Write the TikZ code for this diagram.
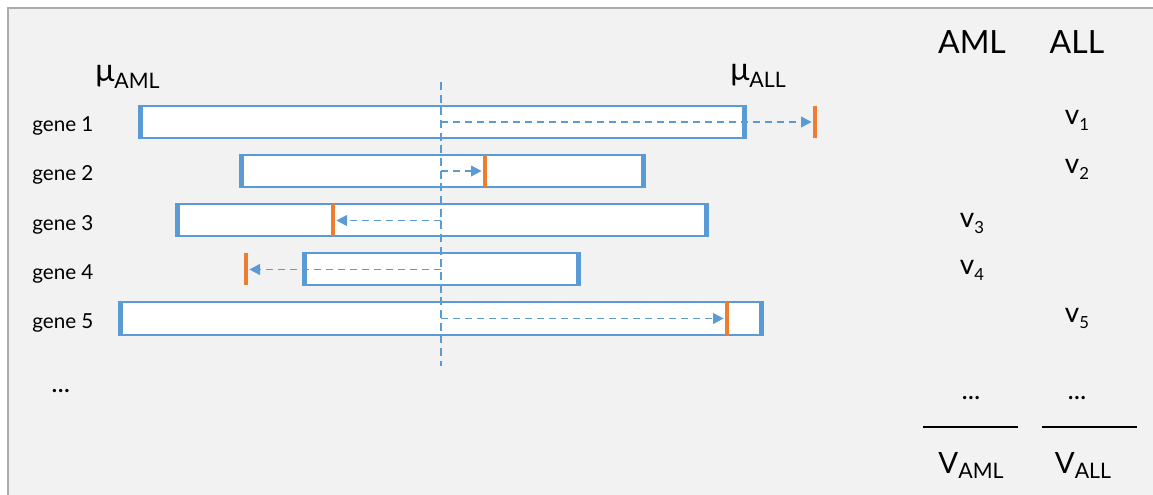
\documentclass[tikz,border=0pt]{standalone}
\usepackage{fontspec}
\setmainfont{Lato}
\usepackage{xcolor}
\usetikzlibrary{arrows.meta}
\definecolor{barblue}{HTML}{5B9BD5}
\definecolor{markorange}{HTML}{ED7D31}
\definecolor{panelc}{HTML}{F2F2F2}
\definecolor{framec}{HTML}{ABABAB}

\begin{document}
\begin{tikzpicture}[x=0.75pt, y=-0.75pt,
  genelbl/.style={anchor=base west, inner sep=0pt, font=\fontsize{15.5}{15.5}\selectfont},
  colhead/.style={anchor=base, inner sep=0pt, font=\fontsize{24}{24}\selectfont},
  dotslbl/.style={anchor=base, inner sep=0pt, font=\fontsize{20}{20}\selectfont},
  shiftline/.style={barblue, line width=1.4pt, dash pattern=on 5.5pt off 3.5pt,
    -{Triangle[length=8pt, width=8pt]}, shorten >=2.5pt}]
  \useasboundingbox (0,0) rectangle (1153,495);
  \fill[panelc] (8,8) rectangle (1153,495);
  \draw[framec, line width=1.2pt] (8,495) -- (8,8) -- (1153,8);

  % bars, shift markers and arrows
  \foreach \i/\l/\r/\m/\y in {1/139/746/815/122, 2/240/645/485/171,
      3/176/708/333/220.5, 4/303/580/246/269.5, 5/119/763/727/318.5} {
    \draw[barblue, fill=white, line width=1.5pt] (\l,\y-16) rectangle (\r,\y+16);
    \draw[barblue, line width=3.5pt] (\l+2,\y-16) -- (\l+2,\y+16);
    \draw[barblue, line width=3.5pt] (\r-2,\y-16) -- (\r-2,\y+16);
    \coordinate (c\i) at (441,\y);
    \coordinate (m\i) at (\m,\y);
    \draw[markorange, line width=3pt] (\m,\y-16) -- (\m,\y+16);
    \draw[shiftline] (c\i) -- (m\i);
    \node[genelbl] (gene\i) at (32,\y+10) {gene \i};
  }
  \coordinate (axtop) at (441,82);
  \coordinate (axbot) at (441,366);
  \draw[barblue, line width=1.3pt, dash pattern=on 6pt off 3.5pt] (axtop) -- (axbot);
  \node[dotslbl, anchor=base west] (genemore) at (51,392) {...};

  % class means
  \node[anchor=base west, inner sep=0pt] (muaml) at (95,82)
    {\fontsize{24}{24}\selectfont μ\raisebox{-5pt}{\fontsize{16}{16}\selectfont AML}};
  \node[anchor=base west, inner sep=0pt] (muall) at (730,81)
    {\fontsize{24}{24}\selectfont μ\raisebox{-5pt}{\fontsize{16}{16}\selectfont ALL}};

  % votes
  \node[colhead] (aml) at (972,54) {AML};
  \node[colhead] (all) at (1077,54) {ALL};
  \foreach \i/\x/\y in {1/1077/125, 2/1077/174, 3/972/228, 4/972/275, 5/1077/323}
    \node[anchor=base, inner sep=0pt] (v\i) at (\x,\y)
      {\fontsize{21}{21}\selectfont v\raisebox{-4.5pt}{\fontsize{12.5}{12.5}\selectfont\i}};
  \node[dotslbl] (vamlmore) at (971,399) {...};
  \node[dotslbl] (vallmore) at (1077,399) {...};
  \draw[black, line width=0.8pt] (923,427) -- (1018,427);
  \draw[black, line width=0.8pt] (1042,427) -- (1137,427);
  \node[anchor=base, inner sep=0pt] (vaml) at (971,473)
    {\fontsize{22}{22}\selectfont V\raisebox{-4pt}{\fontsize{16}{16}\selectfont AML}};
  \node[anchor=base, inner sep=0pt] (vall) at (1083,473)
    {\fontsize{22}{22}\selectfont V\raisebox{-4pt}{\fontsize{16}{16}\selectfont ALL}};
\end{tikzpicture}
\end{document}
